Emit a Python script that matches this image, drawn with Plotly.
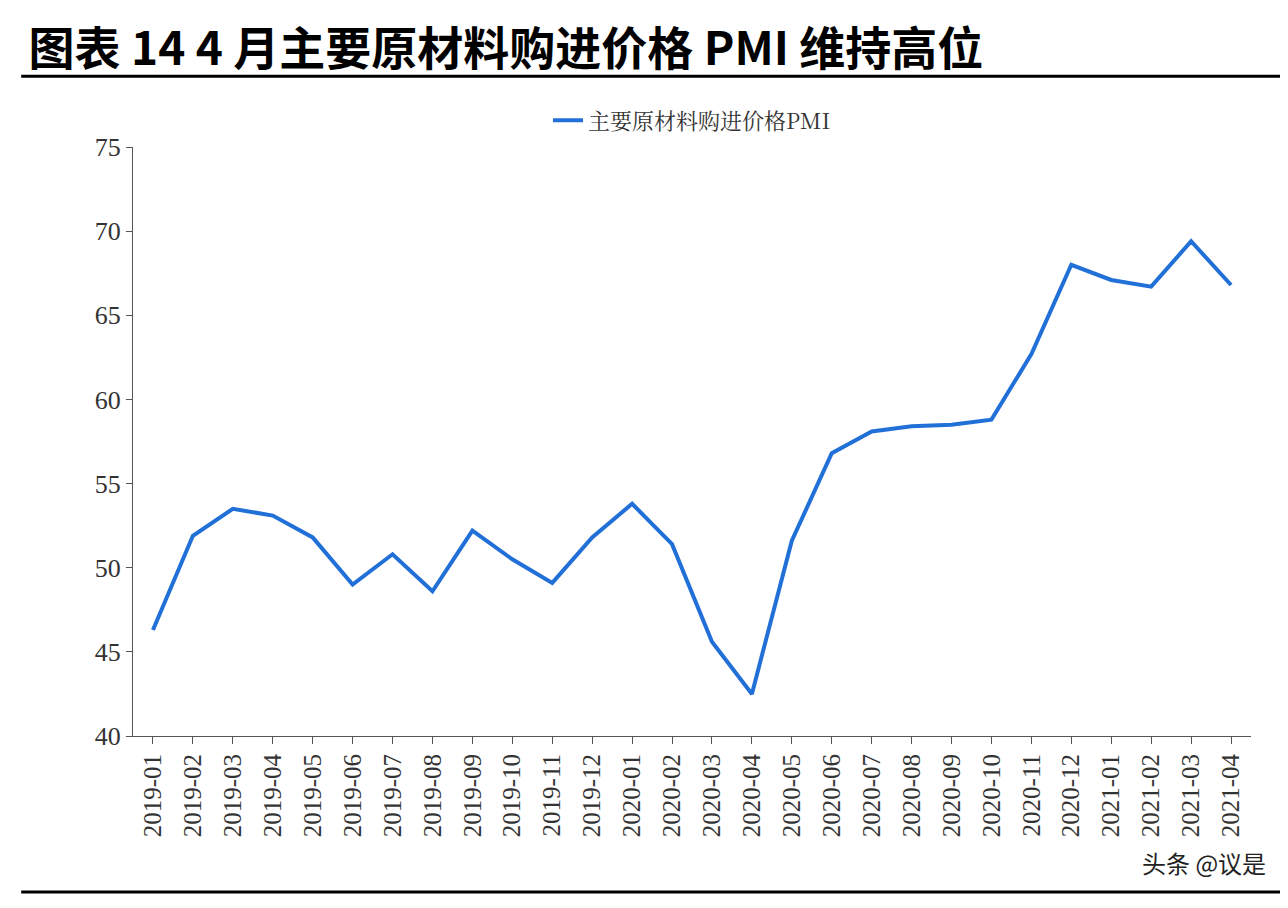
import plotly.graph_objects as go

months = ["2019-01","2019-02","2019-03","2019-04","2019-05","2019-06","2019-07","2019-08","2019-09","2019-10","2019-11","2019-12",
          "2020-01","2020-02","2020-03","2020-04","2020-05","2020-06","2020-07","2020-08","2020-09","2020-10","2020-11","2020-12",
          "2021-01","2021-02","2021-03","2021-04"]
pmi = [46.3,51.9,53.5,53.1,51.8,49.0,50.8,48.6,52.2,50.5,49.1,51.8,
       53.8,51.4,45.6,42.5,51.6,56.8,58.1,58.4,58.5,58.8,62.7,68.0,
       67.1,66.7,69.4,66.8]
yticks = [40,45,50,55,60,65,70,75]

fig = go.Figure(go.Scatter(x=months, y=pmi, mode="lines", name="主要原材料购进价格PMI",
                           line=dict(color="#2170D8", width=4)))
serif = "Liberation Serif, DejaVu Serif, serif"
fig.update_layout(
    width=1288, height=908, paper_bgcolor="white", plot_bgcolor="white",
    margin=dict(l=125, r=45, t=139, b=180),
    showlegend=True,
    legend=dict(orientation="h", x=0.5, xanchor="center", y=1.045, yanchor="middle",
                font=dict(family="Noto Serif CJK SC, Noto Sans CJK SC", size=22, color="#333")),
    xaxis=dict(type="category", tickangle=-90, showgrid=False, showline=True, linecolor="#555",
               ticks="outside", ticklen=7, tickcolor="#555", range=[-0.5, 27.5], automargin=False,
               tickfont=dict(family=serif, size=25, color="#333")),
    yaxis=dict(range=[40,75], tickvals=yticks, showgrid=False, showline=True, linecolor="#555",
               ticks="outside", ticklen=6, tickcolor="#555", automargin=False,
               tickfont=dict(family=serif, size=26, color="#333")),
    title=dict(text="<b>图表 14 4 月主要原材料购进价格 PMI 维持高位</b>", x=0.016, xanchor="left",
               y=0.955, yanchor="middle", font=dict(family="Noto Sans CJK SC", size=46, color="black"),
               automargin=False),
    shapes=[dict(type="line", xref="paper", yref="paper", x0=-0.1, x1=1.04, y0=1.12, y1=1.12,
                 line=dict(color="black", width=3)),
            dict(type="line", xref="paper", yref="paper", x0=-0.1, x1=1.04, y0=-0.265, y1=-0.265,
                 line=dict(color="black", width=3))],
    annotations=[dict(text="头条 @议是", xref="paper", yref="paper", x=1.015, y=-0.215, xanchor="right",
                      yanchor="middle", showarrow=False,
                      font=dict(family="Noto Sans CJK SC", size=24, color="#222"))],
)
fig.write_html("out.html")
